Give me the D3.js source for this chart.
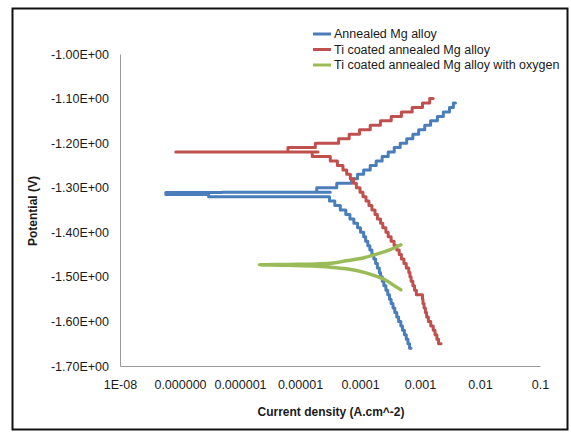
<!DOCTYPE html>
<html>
<head>
<meta charset="utf-8">
<script src="https://cdn.jsdelivr.net/npm/d3@7/dist/d3.min.js"></script>
<style>
  body { margin: 0; background: #fff; }
  text { font-family: "Liberation Sans", Arial, sans-serif; fill: #1a1a1a; }
</style>
</head>
<body>
<div id="chart"></div>
<script>
// series names / colours
var seriesNames = ["Annealed Mg alloy", "Ti coated annealed Mg alloy", "Ti coated annealed Mg alloy with oxygen"];
var seriesColors = ["#4a7ebb", "#c0504d", "#9bbb59"];

// axis ticks
var xTickValues = [1e-8, 1e-7, 1e-6, 1e-5, 1e-4, 1e-3, 1e-2, 1e-1];
var xTickLabels = ["1E-08", "0.000000", "0.000001", "0.00001", "0.0001", "0.001", "0.01", "0.1"];
var yTickValues = [-1.0, -1.1, -1.2, -1.3, -1.4, -1.5, -1.6, -1.7];

// Annealed Mg alloy: potential (V) and current density (A/cm2), scan order
var annealedV = [-1.66, -1.65, -1.64, -1.63, -1.62, -1.61, -1.60, -1.59, -1.58, -1.57, -1.56,
  -1.55, -1.54, -1.53, -1.52, -1.51, -1.50, -1.49, -1.48, -1.47, -1.46, -1.45, -1.44, -1.43,
  -1.42, -1.41, -1.40, -1.39, -1.38, -1.37, -1.36, -1.35, -1.34, -1.33, -1.32,
  -1.32, -1.315, -1.311, -1.31, -1.31,
  -1.30, -1.29, -1.28, -1.27, -1.26, -1.25, -1.24, -1.23, -1.22, -1.21, -1.20, -1.19, -1.18,
  -1.17, -1.16, -1.15, -1.14, -1.13, -1.12, -1.11, -1.11];
var annealedI = [7.1e-4, 6.7e-4, 6.3e-4, 5.9e-4, 5.5e-4, 5.1e-4, 4.8e-4, 4.4e-4, 4.1e-4, 3.8e-4, 3.55e-4,
  3.3e-4, 3.1e-4, 2.9e-4, 2.7e-4, 2.5e-4, 2.35e-4, 2.2e-4, 2.1e-4, 1.95e-4, 1.82e-4, 1.7e-4, 1.58e-4, 1.46e-4,
  1.35e-4, 1.24e-4, 1.15e-4, 1.02e-4, 9.1e-5, 7.9e-5, 6.8e-5, 5.8e-5, 4.7e-5, 3.8e-5, 3.1e-5,
  1.5e-6, 3e-7, 5.8e-8, 5e-7, 3.2e-5,
  1.9e-5, 4.1e-5, 7.2e-5, 9.1e-5, 1.15e-4, 1.48e-4, 1.86e-4, 2.34e-4, 2.95e-4, 3.72e-4, 4.68e-4, 6.0e-4, 7.6e-4,
  9.5e-4, 1.2e-3, 1.5e-3, 1.95e-3, 2.45e-3, 3.1e-3, 3.6e-3, 3.9e-3];

// Ti coated annealed Mg alloy
var coatedV = [-1.65, -1.64, -1.63, -1.62, -1.61, -1.60, -1.59, -1.58, -1.57, -1.56, -1.55,
  -1.54, -1.53, -1.52, -1.51, -1.50, -1.49, -1.48, -1.47, -1.46, -1.45, -1.44, -1.43, -1.42,
  -1.41, -1.40, -1.39, -1.38, -1.37, -1.36, -1.35, -1.34, -1.33, -1.32, -1.31, -1.30, -1.29,
  -1.28, -1.27, -1.26, -1.25, -1.24, -1.23,
  -1.22, -1.22, -1.22, -1.21,
  -1.20, -1.19, -1.18, -1.17, -1.16, -1.15, -1.14, -1.13, -1.12, -1.11, -1.10, -1.10];
var coatedI = [2.24e-3, 2.04e-3, 1.91e-3, 1.78e-3, 1.66e-3, 1.51e-3, 1.38e-3, 1.29e-3, 1.23e-3, 1.17e-3, 1.12e-3,
  1.10e-3, 8.7e-4, 8.1e-4, 7.6e-4, 7.1e-4, 6.8e-4, 6.5e-4, 5.9e-4, 5.4e-4, 4.9e-4, 4.5e-4, 4.1e-4, 3.7e-4,
  3.3e-4, 2.95e-4, 2.7e-4, 2.4e-4, 2.2e-4, 1.95e-4, 1.78e-4, 1.58e-4, 1.41e-4, 1.26e-4, 1.12e-4, 1.0e-4, 8.7e-5,
  7.8e-5, 6.9e-5, 6.0e-5, 5.2e-5, 4.2e-5, 3.2e-5,
  1.6e-5, 8.5e-8, 2.0e-5, 6.3e-6,
  1.8e-5, 4.4e-5, 6.6e-5, 9.8e-5, 1.48e-4, 2.19e-4, 3.31e-4, 4.9e-4, 7.4e-4, 1.1e-3, 1.45e-3, 1.66e-3];

// Ti coated annealed Mg alloy with oxygen
var oxygenV = [-1.529, -1.518, -1.508, -1.499, -1.490, -1.482, -1.476, -1.474, -1.473,
  -1.472, -1.471, -1.469, -1.464, -1.457, -1.449, -1.439, -1.428];
var oxygenI = [4.8e-4, 3.55e-4, 2.75e-4, 1.9e-4, 1.17e-4, 5.9e-5, 1.9e-5, 6.3e-6, 2.1e-6,
  6.3e-6, 1.9e-5, 3.6e-5, 5.9e-5, 1.17e-4, 1.9e-4, 3.2e-4, 4.8e-4];

var width = 571, height = 433;
var svg = d3.select("#chart").append("svg")
  .attr("width", width)
  .attr("height", height);

svg.append("rect")
  .attr("x", 12.5).attr("y", 8.5)
  .attr("width", 555).attr("height", 421)
  .attr("fill", "#fff")
  .attr("stroke", "#111")
  .attr("stroke-width", 2);

var x = d3.scaleLog().domain([1e-8, 0.1]).range([120, 540]);
var y = d3.scaleLinear().domain([-1.7, -1.0]).range([366, 54]);

var xAxis = svg.append("g")
  .attr("transform", "translate(0,366)")
  .call(d3.axisBottom(x).tickValues(xTickValues)
    .tickFormat(function(d, i) { return xTickLabels[i]; })
    .tickSize(0).tickPadding(14));
var yAxis = svg.append("g")
  .attr("transform", "translate(120,0)")
  .call(d3.axisLeft(y).tickValues(yTickValues)
    .tickFormat(function(d) { return d.toFixed(2) + "E+00"; })
    .tickSize(0).tickPadding(11));
[xAxis, yAxis].forEach(function(g) {
  g.select(".domain").attr("stroke", "#9a9a9a").attr("stroke-width", 1);
  g.selectAll("text").attr("font-size", 12.5).attr("font-family", null).attr("fill", "#1a1a1a");
});

svg.append("text")
  .attr("x", 331).attr("y", 416)
  .attr("text-anchor", "middle")
  .attr("font-size", 12).attr("font-weight", "bold")
  .text("Current density (A.cm^-2)");
svg.append("text")
  .attr("transform", "translate(37,211) rotate(-90)")
  .attr("text-anchor", "middle")
  .attr("font-size", 12).attr("font-weight", "bold")
  .text("Potential (V)");

function pairs(vs, is) {
  return vs.map(function(v, i) { return [is[i], v]; });
}

var stepLine = d3.line()
  .x(function(d) { return x(d[0]); })
  .y(function(d) { return y(d[1]); })
  .curve(d3.curveStepAfter);
var smoothLine = d3.line()
  .x(function(d) { return x(d[0]); })
  .y(function(d) { return y(d[1]); })
  .curve(d3.curveCatmullRom.alpha(0.5));

var series = [
  { data: pairs(annealedV, annealedI), line: stepLine, w: 3 },
  { data: pairs(coatedV, coatedI), line: stepLine, w: 3 },
  { data: pairs(oxygenV, oxygenI), line: smoothLine, w: 3.5 }
];

svg.selectAll("path.series")
  .data(series)
  .enter()
  .append("path")
  .attr("class", "series")
  .attr("fill", "none")
  .attr("stroke", function(d, i) { return seriesColors[i]; })
  .attr("stroke-width", function(d) { return d.w; })
  .attr("stroke-linejoin", "round")
  .attr("stroke-linecap", "round")
  .attr("d", function(d) { return d.line(d.data); });

// legend
var legend = svg.append("g").attr("transform", "translate(313,34)");
var items = legend.selectAll("g")
  .data(seriesNames)
  .enter()
  .append("g")
  .attr("transform", function(d, i) { return "translate(0," + (i * 15.5) + ")"; });
items.append("line")
  .attr("x1", 0).attr("x2", 18)
  .attr("stroke", function(d, i) { return seriesColors[i]; })
  .attr("stroke-width", 3);
items.append("text")
  .attr("x", 21).attr("dy", "0.35em")
  .attr("font-size", 12.5)
  .text(function(d) { return d; });
</script>
</body>
</html>
